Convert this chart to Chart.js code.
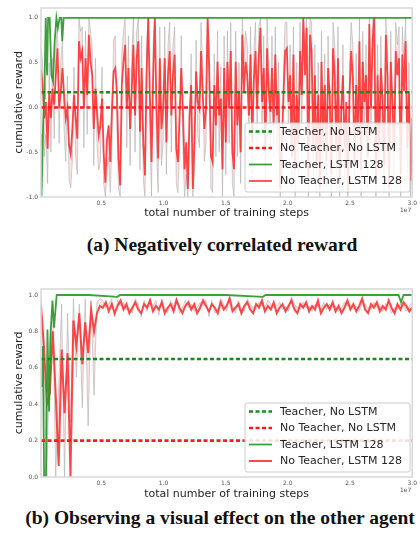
<!DOCTYPE html>
<html><head><meta charset="utf-8">
<script src="https://cdn.jsdelivr.net/npm/chart.js@4/dist/chart.umd.min.js"></script>
<style>
html,body{margin:0;padding:0;background:#fff;}
body{width:420px;height:542px;position:relative;overflow:hidden;font-family:"DejaVu Sans";}
#ca{position:absolute;left:0;top:0;}
#cb{position:absolute;left:0;top:280px;}
.cap{position:absolute;width:420px;text-align:center;font-family:"Liberation Serif",serif;font-weight:bold;font-size:19.5px;line-height:22px;color:#111;white-space:nowrap;}
</style></head><body>
<canvas id="ca" width="420" height="222" style="width:420px;height:222px"></canvas>
<canvas id="cb" width="420" height="223" style="width:420px;height:223px"></canvas>
<div class="cap" style="top:234px;left:12px">(a) Negatively correlated reward</div>
<div class="cap" style="top:507px;left:10px">(b) Observing a visual effect on the other agent</div>
<script>
// ---- shared axis data (steps in units of 1e7) ----
const START = 0.015, END = 3.0;
const xTicks = [0.5, 1.0, 1.5, 2.0, 2.5, 3.0];
const yTicksA = [-1.0, -0.5, 0.0, 0.5, 1.0];
const yTicksB = [0.0, 0.2, 0.4, 0.6, 0.8, 1.0];
const legendLabels = ["Teacher, No LSTM", "No Teacher, No LSTM", "Teacher, LSTM 128", "No Teacher, LSTM 128"];

// ---- (a) Negatively correlated reward ----
const aTeacherNoLstm = 0.17;
const aNoTeacherNoLstm = 0.0;
const aRedLstm = [
 0.42,0.25,-0.12,0.06,-0.46,0.18,-0.12,0.21,0.03,0.36,
 0.66,-0.01,0.18,0.44,0.14,-0.12,-0.01,-0.42,-0.52,-0.24,
 0.14,-0.12,-0.35,0.74,0.55,0.63,-0.01,0.55,0.14,0.81,
 0.51,0.36,-0.24,0.21,-0.05,-0.31,-0.20,0.10,-0.50,-0.84,
 -0.35,-0.20,-0.61,-0.01,0.40,0.44,0.18,-0.57,-0.87,0.25,
 0.51,0.70,-0.01,0.44,-0.24,0.18,0.70,-0.09,0.55,0.74,
 -0.27,0.44,-0.39,-0.76,0.36,1.0,0.14,-0.61,0.36,1.0,
 -0.01,-0.57,0.55,-0.24,
 -0.01,0.55,-0.39,0.36,0.63,-0.09,0.36,0.59,-0.46,-0.61,
 -0.09,0.44,-0.01,-0.69,-0.39,-0.91,-0.09,0.25,-0.91,-0.39,
 0.40,0.06,-0.01,0.63,0.14,-0.24,-0.01,1.0,0.36,-0.54,
 -0.61,0.25,-0.20,0.51,-0.09,0.10,-0.69,0.44,-0.39,0.51,
 -0.01,0.63,-0.50,-0.69,0.51,-0.20,0.18,-0.50,0.81,0.18,
 0.51,0.36,-0.09,0.59,-0.39,0.29,0.63,-0.01,0.55,0.89,
 0.06,0.44,-0.50,0.66,0.18,-0.05,0.44,-0.20,0.59,-0.09,
 0.18,-0.91,-0.39,0.14,0.63,
 0.66,0.06,0.36,-0.55,0.59,-0.70,0.14,-0.40,0.63,0.14,
 1.0,0.36,0.89,-0.80,0.81,0.63,-0.45,0.36,-0.65,0.14,
 -0.90,0.51,-0.35,0.25,-0.60,0.44,0.14,-0.75,0.66,0.36,
 -0.50,0.55,-0.85,-0.01,0.36,-0.45,0.06,-0.95,0.14,0.63,
 0.33,-0.60,0.25,-0.30,0.74,-0.70,0.51,0.06,0.36,-0.55,
 0.93,-0.01,0.74,1.0,-0.80,0.36,-0.40,0.44,0.10,-0.65,
 0.81,0.36,-0.90,0.51,0.06,-0.50,0.63,0.36,0.55,-0.75,
 0.59,0.18,0.74,-0.45,0.18,-0.82,-0.12
];
const aGrayRun = [
 0.65,0.5,-0.55,-0.3,-0.85,0.5,-0.5,0.55,-0.35,0.65,
 0.95,-0.4,0.5,0.75,-0.25,-0.6,0.35,-0.8,-0.9,-0.6,
 0.45,-0.55,-0.75,1.0,0.85,0.9,-0.45,0.85,-0.3,1.0,
 0.85,0.65,-0.65,0.55,-0.45,-0.7,-0.6,0.45,-0.85,-1.0,
 -0.7,-0.55,-0.95,-0.4,0.75,0.8,-0.2,-0.9,-1.0,0.6,
 0.85,1.0,-0.45,0.8,-0.65,0.55,1.0,-0.5,0.85,1.0,
 -0.7,0.8,-0.8,-1.0,0.7,1.0,-0.3,-1.0,0.75,1.0,
 -0.45,-0.95,0.9,-0.65,
 -0.4,0.9,-0.75,0.7,0.95,-0.5,0.7,0.9,-0.85,-0.95,
 -0.45,0.8,-0.4,-1.0,-0.75,-1.0,-0.45,0.6,-1.0,-0.75,
 0.75,-0.3,-0.45,0.95,0.45,-0.6,-0.4,1.0,0.7,-0.9,
 -0.95,0.6,-0.55,0.85,-0.5,0.45,-1.0,0.8,-0.75,0.85,
 -0.4,0.95,-0.85,-1.0,0.85,-0.55,0.5,-0.85,1.0,0.5,
 0.85,0.7,-0.45,0.9,-0.75,0.6,0.95,-0.4,0.9,1.0,
 -0.3,0.8,-0.85,1.0,0.5,-0.45,0.8,-0.55,0.9,-0.5,
 0.5,-1.0,-0.75,0.45,0.95,
 0.95,-0.35,0.7,-0.9,0.9,-1.0,0.5,-0.75,0.95,-0.3,
 1.0,0.7,1.0,-1.0,1.0,0.95,-0.8,0.7,-0.95,0.5,
 -1.0,0.85,-0.7,0.6,-0.9,0.8,-0.3,-1.0,0.95,0.7,
 -0.85,0.9,-1.0,-0.4,0.7,-0.8,-0.35,-1.0,0.5,0.95,
 0.7,-0.9,0.6,-0.65,1.0,-1.0,0.85,-0.35,0.7,-0.9,
 1.0,-0.4,1.0,1.0,-1.0,0.7,-0.75,0.8,-0.3,-0.95,
 1.0,0.7,-1.0,0.85,-0.35,-0.85,0.95,0.7,0.9,-1.0,
 0.9,0.5,1.0,-0.8,0.5,-1.0,-0.5
];
const aGreenSteps = [0.015,0.019,0.026,0.032,0.04,0.045,0.053,0.064,0.072,0.085,0.099,0.112,0.125,0.139,0.151,0.165,0.178,0.186,0.197,0.6,1.0,1.5,2.0,2.5,3.0];
const aGreenLstm  = [-0.3,-0.99,-0.6,-0.2,0.1,0.36,1.0,0.36,1.0,1.0,0.36,0.29,0.74,1.0,0.89,1.0,1.0,0.74,1.0,1.0,1.0,1.0,1.0,1.0,1.0];

// ---- (b) Observing a visual effect on the other agent ----
const bTeacherNoLstm = 0.648;
const bNoTeacherNoLstm = 0.20;
const bRedLstm = [
 0.94,0.72,0.40,0.46,0.80,0.45,0.06,0.70,0.35,0.68,0.0,0.86,0.72,0.90,0.62,0.85,0.68,0.92,0.80,0.90,0.94,
 0.93,0.96,0.91,0.95,0.90,0.94,0.97,0.92,0.95,0.90,
 0.93,0.96,0.92,0.90,0.95,0.93,0.97,0.91,0.94,0.92,
 0.96,0.90,0.93,0.95,0.91,0.97,0.93,0.90,0.94,0.96,
 0.92,0.95,0.90,0.93,0.97,0.94,0.91,0.95,0.93,0.90,
 0.96,0.92,0.94,0.98,0.91,0.93,0.95,0.90,0.94,0.96,
 0.92,0.90,0.95,0.93,0.97,0.91,0.94,0.92,0.96,0.90,
 0.93,0.95,0.91,0.94,0.97,0.92,0.90,0.95,0.93,0.96,
 0.91,0.94,0.92,0.97,0.90,0.93,0.95,0.92,0.96,0.91,
 0.94,0.90,0.93,0.97,0.92,0.95,0.91,0.94,0.98,0.92,
 0.90,0.95,0.93,0.96,0.91,0.94,0.92,0.97,0.93,0.90,
 0.95,0.92,0.96,0.94,0.91,0.93
];
const bGrayRun = [
 0.98,0.55,0.0,0.75,0.95,0.0,0.5,0.95,0.0,0.9,0.3,0.98,0.55,0.95,0.38,0.98,0.28,0.97,0.45,0.96,0.98,
 0.97,0.93,0.95,0.98,0.88,0.97,0.94,0.96,0.92,0.93,
 0.90,0.98,0.95,0.88,0.97,0.91,0.98,0.94,0.97,0.89,
 0.98,0.93,0.90,0.97,0.94,0.99,0.90,0.93,0.97,0.93,
 0.95,0.91,0.93,0.96,0.94,0.97,0.88,0.97,0.90,0.92,
 0.98,0.95,0.91,0.99,0.94,0.90,0.97,0.93,0.91,0.98,
 0.95,0.93,0.92,0.96,0.94,0.93,0.97,0.95,0.93,0.94,
 0.96,0.92,0.94,0.91,0.99,0.95,0.93,0.92,0.96,0.93,
 0.94,0.91,0.95,0.94,0.92,0.96,0.92,0.95,0.93,0.94,
 0.91,0.93,0.96,0.94,0.95,0.92,0.94,0.91,0.96,0.95,
 0.93,0.92,0.96,0.93,0.94,0.91,0.95,0.94,0.90,0.93,
 0.92,0.95,0.93,0.91,0.94,0.96
];
const bGreenSteps = [0.015,0.023,0.03,0.04,0.055,0.067,0.08,0.093,0.107,0.12,0.141,0.4,0.63,0.65,1.0,1.5,1.8,1.82,2.2,2.6,2.89,2.91,2.93,3.0];
const bGreenLstm  = [0.5,0.51,0.72,0.0,0.0,0.81,0.36,0.80,0.97,0.82,1.0,1.0,0.99,1.0,1.0,1.0,0.99,1.0,1.0,1.0,1.0,0.96,1.0,1.0];

// ---- helpers ----
const GREEN = '#1a8a1a', GREEN_SOLID = 'rgba(40,150,40,0.9)';
const RED = '#ff1a1a', RED_SOLID = 'rgba(255,40,40,0.85)';
const grid = arr => arr.map((_, i) => START + i * (END - START) / (arr.length - 1));
const pts = (xs, ys) => ys.map((y, i) => ({x: xs[i], y}));
const flat = v => [{x: START, y: v}, {x: END, y: v}];

function makeDatasets(teacherNo, noTeacherNo, gSteps, gVals, red, gray, redWidth) {
  const xs = grid(red);
  return [
    {label: legendLabels[0], data: flat(teacherNo), borderColor: GREEN, borderWidth: 2.6, borderDash: [4, 2.5]},
    {label: legendLabels[1], data: flat(noTeacherNo), borderColor: RED, borderWidth: 2.6, borderDash: [4, 2.5]},
    {label: legendLabels[2], data: pts(gSteps, gVals), borderColor: GREEN_SOLID, borderWidth: 1.8},
    {label: legendLabels[3], data: pts(xs, red), borderColor: RED_SOLID, borderWidth: redWidth},
    {label: '', data: pts(xs, gray), borderColor: 'rgba(175,175,175,0.6)', borderWidth: 1,
     fill: {target: 3}, backgroundColor: 'rgba(255,60,60,0.15)'}
  ];
}

const framePlugin = {
  id: 'frameLegend',
  afterDraw(chart, args, opts) {
    const {ctx, chartArea: a} = chart;
    ctx.save();
    ctx.strokeStyle = '#d8d8d8'; ctx.lineWidth = 1.5;
    ctx.strokeRect(a.left, a.top, a.right - a.left, a.bottom - a.top);
    ctx.font = '6px "DejaVu Sans"'; ctx.fillStyle = '#555'; ctx.textAlign = 'right'; ctx.textBaseline = 'middle';
    ctx.fillText('1e7', a.right - 1, a.bottom + 13);
    const L = opts.box;
    ctx.beginPath();
    ctx.roundRect(L.x, L.y, L.w, L.h, 2);
    ctx.fillStyle = 'rgba(255,255,255,0.85)'; ctx.fill();
    ctx.strokeStyle = '#cccccc'; ctx.lineWidth = 1; ctx.stroke();
    ctx.font = '11px "DejaVu Sans"'; ctx.textAlign = 'left'; ctx.textBaseline = 'middle';
    legendLabels.forEach((lab, i) => {
      const ds = chart.data.datasets.find(d => d.label === lab);
      const y = L.y + 8.5 + i * 16.5;
      ctx.beginPath();
      ctx.setLineDash(ds.borderDash || []);
      ctx.strokeStyle = ds.borderColor; ctx.lineWidth = Math.min(ds.borderWidth, 2.6);
      ctx.moveTo(L.x + 4, y); ctx.lineTo(L.x + 27, y); ctx.stroke();
      ctx.setLineDash([]);
      ctx.fillStyle = '#262626';
      ctx.fillText(lab, L.x + 35, y + 0.5);
    });
    ctx.restore();
  }
};

function makeChart(id, datasets, ymin, ymax, yTicks, padTop, xHeight) {
  return new Chart(document.getElementById(id), {
    type: 'line',
    data: {datasets},
    plugins: [framePlugin],
    options: {
      responsive: false, animation: false, devicePixelRatio: 1,
      layout: {padding: {left: 0, right: 4, top: padTop, bottom: 0}},
      elements: {point: {radius: 0}, line: {tension: 0}},
      plugins: {
        legend: {display: false}, tooltip: {enabled: false},
        frameLegend: {box: {x: 245, y: 123, w: 165, h: 69}}
      },
      scales: {
        x: {
          type: 'linear', min: START, max: END,
          grid: {display: false, drawTicks: false}, border: {display: false},
          afterBuildTicks: s => { s.ticks = xTicks.map(v => ({value: v})); },
          afterFit: s => { s.height = xHeight; },
          ticks: {font: {family: 'DejaVu Sans', size: 6}, color: '#555', padding: 3, maxRotation: 0,
                  callback: v => Number(v).toFixed(1)},
          title: {display: true, text: 'total number of training steps', color: '#262626',
                  font: {family: 'DejaVu Sans', size: 11}, padding: {top: 0, bottom: 2}}
        },
        y: {
          min: ymin, max: ymax,
          grid: {display: false, drawTicks: false}, border: {display: false},
          afterBuildTicks: s => { s.ticks = yTicks.map(v => ({value: v})); },
          afterFit: s => { s.width = 41; },
          ticks: {font: {family: 'DejaVu Sans', size: 6}, color: '#555', padding: 3,
                  callback: v => Number(v).toFixed(1)},
          title: {display: true, text: 'cumulative reward', color: '#262626',
                  font: {family: 'DejaVu Sans', size: 11}, padding: {top: 13, bottom: 0}}
        }
      }
    }
  });
}

makeChart('ca', makeDatasets(aTeacherNoLstm, aNoTeacherNoLstm, aGreenSteps, aGreenLstm, aRedLstm, aGrayRun, 1.8),
          -1.0, 1.11, yTicksA, 8, 25);
makeChart('cb', makeDatasets(bTeacherNoLstm, bNoTeacherNoLstm, bGreenSteps, bGreenLstm, bRedLstm, bGrayRun, 2),
          0.0, 1.033, yTicksB, 9, 26);
</script>
</body></html>
